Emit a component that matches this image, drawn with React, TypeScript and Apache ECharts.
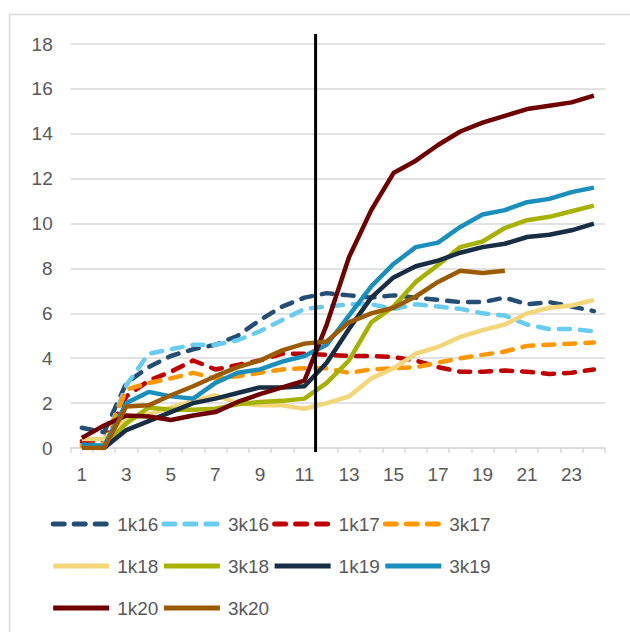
import React, { useEffect, useRef } from "react";
import * as echarts from "echarts";

const categories = Array.from({ length: 24 }, (_, i) => String(i + 1));
const yTicks = { min: 0, max: 18, interval: 2 };
const dividerAt = 11.5;

const names = ["1k16", "3k16", "1k17", "3k17", "1k18", "3k18", "1k19", "3k19", "1k20", "3k20"];
const colors = ["#254E74", "#69CBEE", "#C00000", "#FF9800", "#F3D57A", "#A6B100", "#172E44", "#1A8FBC", "#6E0000", "#9C5B00"];
const dashed = [true, true, true, true, false, false, false, false, false, false];

const v1k16 = [0.9, 0.7, 2.9, 3.6, 4.1, 4.4, 4.6, 5.0, 5.7, 6.3, 6.7, 6.9, 6.8, 6.7, 6.8, 6.7, 6.6, 6.5, 6.5, 6.7, 6.4, 6.5, 6.3, 6.1];
const v3k16 = [0.2, 0.2, 2.8, 4.2, 4.4, 4.6, 4.6, 4.8, 5.2, 5.7, 6.2, 6.3, 6.4, 6.4, 6.2, 6.4, 6.3, 6.2, 6.0, 5.9, 5.5, 5.3, 5.3, 5.2];
const v1k17 = [0.3, 0.3, 2.3, 3.0, 3.4, 3.9, 3.5, 3.7, 3.9, 4.2, 4.2, 4.15, 4.1, 4.1, 4.05, 3.9, 3.6, 3.4, 3.4, 3.45, 3.4, 3.3, 3.35, 3.5];
const v3k17 = [0.1, 0.2, 2.6, 2.9, 3.1, 3.35, 3.1, 3.2, 3.35, 3.5, 3.55, 3.55, 3.35, 3.5, 3.55, 3.6, 3.8, 4.0, 4.15, 4.3, 4.55, 4.6, 4.65, 4.7];
const v1k18 = [0.4, 0.4, 1.3, 1.5, 1.8, 2.1, 2.35, 2.0, 1.9, 1.9, 1.75, 2.0, 2.3, 3.1, 3.55, 4.2, 4.5, 4.95, 5.25, 5.5, 6.0, 6.25, 6.35, 6.6];
const v3k18 = [0.1, 0.1, 1.1, 1.8, 1.7, 1.7, 1.75, 1.95, 2.05, 2.1, 2.2, 2.9, 3.9, 5.6, 6.3, 7.4, 8.15, 8.95, 9.2, 9.8, 10.15, 10.3, 10.55, 10.8];
const v1k19 = [0.1, 0.0, 0.8, 1.2, 1.6, 2.0, 2.2, 2.45, 2.7, 2.7, 2.75, 3.8, 5.3, 6.7, 7.6, 8.1, 8.35, 8.7, 8.95, 9.1, 9.4, 9.5, 9.7, 10.0];
const v3k19 = [0.15, 0.1, 2.0, 2.5, 2.3, 2.2, 2.9, 3.35, 3.5, 3.85, 4.1, 4.6, 5.9, 7.2, 8.2, 8.95, 9.15, 9.85, 10.4, 10.6, 10.95, 11.1, 11.4, 11.6];
const v1k20 = [0.45, 1.0, 1.45, 1.4, 1.25, 1.45, 1.6, 2.05, 2.4, 2.7, 3.0, 5.5, 8.5, 10.6, 12.25, 12.8, 13.5, 14.1, 14.5, 14.8, 15.1, 15.25, 15.4, 15.7];
const v3k20 = [0.0, 0.0, 1.85, 1.9, 2.35, 2.75, 3.2, 3.6, 3.9, 4.35, 4.65, 4.75, 5.6, 6.0, 6.25, 6.75, 7.4, 7.9, 7.8, 7.9];

const seriesValues = [v1k16, v3k16, v1k17, v3k17, v1k18, v3k18, v1k19, v3k19, v1k20, v3k20];

const FONT = "'Liberation Sans', Arial, sans-serif";
const TEXT = "#595959";
const GRID = "#D9D9D9";

export default function App() {
  const ref = useRef<HTMLDivElement>(null);
  useEffect(() => {
    if (!ref.current) return;
    const chart = echarts.init(ref.current, null, { renderer: "svg" });
    const lineSeries = names.map((name, i) => ({
      name,
      type: "line",
      xAxisIndex: 0,
      yAxisIndex: 0,
      data: seriesValues[i],
      symbol: "none",
      color: colors[i],
      lineStyle: {
        color: colors[i],
        width: 4.5,
        type: dashed[i] ? [11, 10] : "solid",
        cap: dashed[i] ? "round" : "butt",
        join: "round",
      },
      z: 2 + i,
    }));
    chart.setOption({
      animation: false,
      backgroundColor: "#ffffff",
      textStyle: { fontFamily: FONT },
      graphic: [
        {
          type: "rect",
          shape: { x: 9.5, y: 14.5, width: 660, height: 660 },
          style: { fill: "none", stroke: GRID, lineWidth: 1.5 },
          silent: true,
          z: -10,
        },
      ],
      grid: [
        { left: 70.7, right: 25, top: 44, bottom: 184 },
        { left: 70.7, right: 25, top: 34, bottom: 180 },
      ],
      xAxis: [
        {
          type: "category",
          gridIndex: 0,
          data: categories,
          boundaryGap: true,
          axisLine: { show: true, lineStyle: { color: GRID, width: 1.5 } },
          axisTick: { show: true, interval: 0, length: 5, lineStyle: { color: GRID, width: 1.5 } },
          axisLabel: { interval: 1, color: TEXT, fontSize: 19, margin: 17, fontFamily: FONT },
          splitLine: { show: false },
        },
        {
          type: "value",
          gridIndex: 1,
          min: 0.5,
          max: 24.5,
          show: false,
        },
      ],
      yAxis: [
        {
          type: "value",
          gridIndex: 0,
          min: yTicks.min,
          max: yTicks.max,
          interval: yTicks.interval,
          axisLine: { show: false },
          axisTick: { show: false },
          axisLabel: { color: TEXT, fontSize: 19, margin: 18, fontFamily: FONT },
          splitLine: { show: true, lineStyle: { color: GRID, width: 1.5 } },
        },
        {
          type: "value",
          gridIndex: 1,
          min: 0,
          max: 1,
          show: false,
        },
      ],
      legend: {
        data: names,
        left: 50.7,
        top: 504.5,
        width: 470,
        padding: 0,
        itemGap: 3,
        itemWidth: 56,
        itemHeight: 48.75,
        itemStyle: { opacity: 0 },
        textStyle: { color: TEXT, fontSize: 19, fontFamily: FONT, padding: [0, 0, 0, 3] },
        lineStyle: { width: 5 },
      },
      series: [
        ...lineSeries,
        {
          name: "divider",
          type: "line",
          xAxisIndex: 1,
          yAxisIndex: 1,
          data: [
            [dividerAt, 0],
            [dividerAt, 1],
          ],
          symbol: "none",
          lineStyle: { color: "#000000", width: 3 },
          z: 20,
        },
      ],
    });
    return () => chart.dispose();
  }, []);
  return (
    <div
      ref={ref}
      style={{ position: "fixed", left: 0, top: 0, width: 630, height: 632 }}
    />
  );
}
